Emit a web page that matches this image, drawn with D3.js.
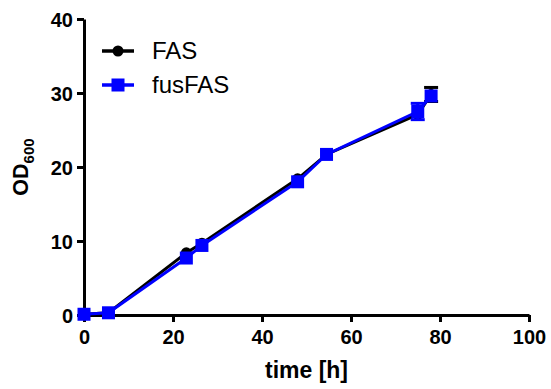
<!DOCTYPE html>
<html><head><meta charset="utf-8">
<script src="https://cdn.jsdelivr.net/npm/d3@7"></script>
<style>body{margin:0;background:#fff}svg{display:block}text{font-family:"Liberation Sans",Arial,Helvetica,sans-serif}</style>
</head><body>
<script>
const time = [0, 5.5, 23, 26.5, 48, 54.5, 75, 78];
const fasOD = [0.1, 0.3, 8.4, 9.7, 18.4, 21.7, 27.1, 29.8];
const fasErr = [0, 0, 0, 0, 0, 0, 0, 0.95];
const fusOD = [0.1, 0.3, 7.7, 9.4, 18.0, 21.7, 27.5, 29.6];
const fusErr = [0, 0, 0, 0, 0, 0, 1.1, 0];
const xTicks = [0, 20, 40, 60, 80, 100];
const yTicks = [0, 10, 20, 30, 40];
const seriesNames = ["FAS", "fusFAS"];

const W = 551, H = 389;
const svg = d3.select("body").append("svg").attr("width", W).attr("height", H);
const x = d3.scaleLinear().domain([0, 100]).range([84, 529]);
const y = d3.scaleLinear().domain([0, 40]).range([315, 19]);

// axes
const xAxis = svg.append("g").attr("transform", `translate(0,${y(0)})`)
  .call(d3.axisBottom(x).tickValues(xTicks).tickSize(7).tickSizeOuter(0).tickPadding(6));
const yAxis = svg.append("g").attr("transform", `translate(${x(0)},0)`)
  .call(d3.axisLeft(y).tickValues(yTicks).tickSize(7).tickSizeOuter(0).tickPadding(4));
[xAxis, yAxis].forEach(g => {
  g.select(".domain").attr("stroke", "#000").attr("stroke-width", 3);
  g.selectAll(".tick line").attr("stroke", "#000").attr("stroke-width", 3);
  g.selectAll(".tick text").attr("fill", "#000").style("font-size", "20px").style("font-weight", "bold");
});
xAxis.selectAll(".tick text").attr("dy", "0.78em");
yAxis.selectAll(".tick text").attr("dy", "0.36em");

// axis titles
svg.append("text").attr("x", (x(0) + x(100)) / 2).attr("y", 378).attr("text-anchor", "middle")
  .style("font-size", "23px").style("font-weight", "bold").text("time [h]");
const yt = svg.append("text").attr("transform", `translate(28,${(y(0) + y(40)) / 2}) rotate(-90)`)
  .attr("text-anchor", "middle").style("font-weight", "bold").style("font-size", "21.5px");
yt.append("tspan").text("OD");
yt.append("tspan").attr("dy", 6).style("font-size", "15px").text("600");

const line = d3.line().x(d => x(d[0])).y(d => y(d[1]));
const series = [
  { name: seriesNames[0], vals: fasOD, err: fasErr, color: "#000", shape: "circle" },
  { name: seriesNames[1], vals: fusOD, err: fusErr, color: "#0000ff", shape: "square" }
];

function marker(g, shape, cx, cy, color) {
  if (shape === "circle") g.append("circle").attr("cx", cx).attr("cy", cy).attr("r", 5.5).attr("fill", color);
  else g.append("rect").attr("x", cx - 6.5).attr("y", cy - 6.5).attr("width", 13).attr("height", 13).attr("fill", color);
}

series.forEach(s => {
  const pts = time.map((t, i) => [t, s.vals[i], s.err[i]]);
  const g = svg.append("g");
  pts.filter(p => p[2] > 0).forEach(p => {
    const cx = x(p[0]);
    g.append("line").attr("x1", cx).attr("x2", cx).attr("y1", y(p[1] - p[2])).attr("y2", y(p[1] + p[2]))
      .attr("stroke", s.color).attr("stroke-width", 3);
    [p[1] - p[2], p[1] + p[2]].forEach(v => g.append("line").attr("x1", cx - 7).attr("x2", cx + 7)
      .attr("y1", y(v)).attr("y2", y(v)).attr("stroke", s.color).attr("stroke-width", 3));
  });
  g.append("path").datum(pts).attr("d", line).attr("fill", "none").attr("stroke", s.color).attr("stroke-width", 3);
  pts.forEach(p => marker(g, s.shape, x(p[0]), y(p[1]), s.color));
});

// legend
series.forEach((s, i) => {
  const ly = 51 + i * 34;
  const g = svg.append("g");
  g.append("line").attr("x1", 102).attr("x2", 134).attr("y1", ly).attr("y2", ly).attr("stroke", s.color).attr("stroke-width", 3.5);
  marker(g, s.shape, 118, ly, s.color);
  g.append("text").attr("x", 152).attr("y", ly + 8).style("font-size", "24px").attr("fill", "#000").text(s.name);
});
</script>
</body></html>
